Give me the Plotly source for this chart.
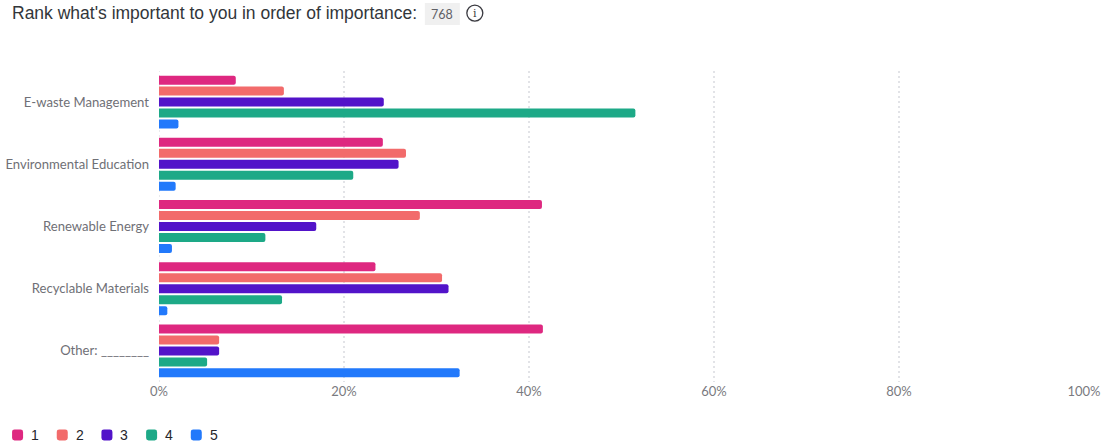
import plotly.graph_objects as go

categories = ["E-waste Management", "Environmental Education", "Renewable Energy", "Recyclable Materials", "Other: ________"]
rank_1 = [8.3, 24.2, 41.4, 23.4, 41.5]
rank_2 = [13.5, 26.7, 28.2, 30.6, 6.5]
rank_3 = [24.3, 25.9, 17.0, 31.3, 6.5]
rank_4 = [51.5, 21.0, 11.5, 13.3, 5.2]
rank_5 = [2.1, 1.8, 1.4, 0.9, 32.5]
series = {"1": rank_1, "2": rank_2, "3": rank_3, "4": rank_4, "5": rank_5}
colors = ["#DE2880", "#F26B6B", "#5213C9", "#1DA987", "#2279FB"]
x_ticks = [0, 20, 40, 60, 80, 100]
x_labels = ["0%", "20%", "40%", "60%", "80%", "100%"]
title = "Rank what's important to you in order of importance:"
count = "768"

W, H = 1117, 447
L, T, PW, PH = 159, 71, 925.5, 311.5
px = lambda x: (x - L) / PW      # page px -> paper x
py = lambda y: 1 - (y - T) / PH  # page px -> paper y

fig = go.Figure()
for (name, vals), c in zip(series.items(), colors):
    fig.add_trace(go.Bar(y=categories, x=vals, name=name, orientation="h", showlegend=False,
                         marker=dict(color=c, line=dict(width=0))))

shapes = [
    dict(type="line", xref="x", yref="paper", x0=0, x1=0, y0=0, y1=1,
         line=dict(color="#E2E3E7", width=1.5, dash="2px,3px"), layer="below"),
    dict(type="rect", xref="paper", yref="paper", x0=px(425), x1=px(460), y0=py(25), y1=py(3),
         fillcolor="#F0F0F0", line=dict(width=0)),
    dict(type="circle", xref="paper", yref="paper", x0=px(467), x1=px(483), y0=py(21), y1=py(5),
         line=dict(color="#3A3A40", width=1.3)),
]
annotations = [
    dict(text=title, xref="paper", yref="paper", x=px(10), y=py(13), xanchor="left", yanchor="middle",
         showarrow=False, font=dict(family="Liberation Sans", size=17.5, color="#32363A")),
    dict(text=count, xref="paper", yref="paper", x=px(442.5), y=py(14), xanchor="center", yanchor="middle",
         showarrow=False, font=dict(family="Lato", size=12.5, color="#5F6066")),
    dict(text="i", xref="paper", yref="paper", x=px(475), y=py(13), xanchor="center", yanchor="middle",
         showarrow=False, font=dict(family="DejaVu Serif", size=11, color="#3A3A40")),
]
# Legend: rounded swatches with real text labels
for i, (name, c) in enumerate(zip(series, colors)):
    x0, x1 = 12 + 44.7 * i, 23 + 44.7 * i
    y0, y1 = 430, 441
    r = 2.5
    a, b = px(x0), px(x1)
    c0, c1 = py(y0), py(y1)
    rx, ry = r / PW, r / PH
    path = (f"M{a+rx},{c0} L{b-rx},{c0} Q{b},{c0} {b},{c0-ry} L{b},{c1+ry} Q{b},{c1} {b-rx},{c1} "
            f"L{a+rx},{c1} Q{a},{c1} {a},{c1+ry} L{a},{c0-ry} Q{a},{c0} {a+rx},{c0} Z")
    shapes.append(dict(type="path", xref="paper", yref="paper", path=path, fillcolor=c, line=dict(width=0)))
    annotations.append(dict(text=name, xref="paper", yref="paper", x=px(29 + 44.7 * i), y=py(436),
                            xanchor="left", yanchor="middle", showarrow=False,
                            font=dict(family="Liberation Sans", size=14, color="#26262B")))

fig.update_layout(
    width=W, height=H, autosize=False,
    margin=dict(l=L, r=W - L - PW, t=T, b=H - T - PH, autoexpand=False, pad=0),
    paper_bgcolor="white", plot_bgcolor="white",
    barmode="group", bargap=0.117, bargroupgap=0.18, barcornerradius=2,
    font=dict(family="Lato", size=13, color="#7A7A80"),
    showlegend=False,
    xaxis=dict(range=[0, 100], tickvals=x_ticks, ticktext=x_labels, showgrid=True,
               gridcolor="#E2E3E7", griddash="2px,3px", gridwidth=1.5, zeroline=False,
               showline=False, ticks="", tickfont=dict(size=13, color="#7A7A80"), ticklabelstandoff=0),
    yaxis=dict(autorange="reversed", showgrid=False, zeroline=False, showline=False, ticks="",
               tickfont=dict(size=13.1, color="#6F7076"), ticklabelstandoff=9),
    shapes=shapes,
    annotations=annotations,
)
fig.write_html("out.html", config={"displayModeBar": False},
               post_script="document.body.style.margin='0';document.body.style.overflow='hidden';")
